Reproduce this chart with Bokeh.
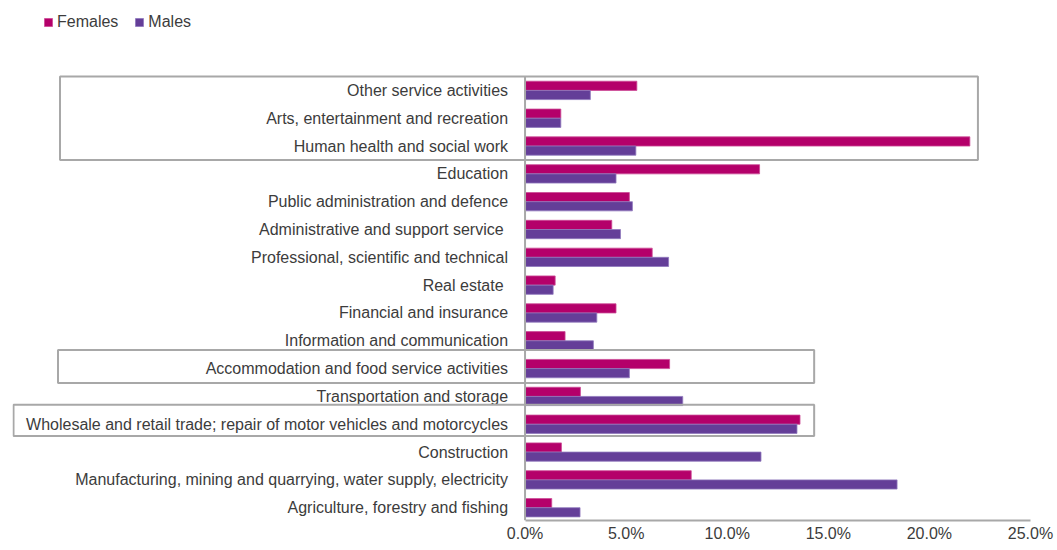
from bokeh.plotting import figure
from bokeh.models import (ColumnDataSource, Range1d, FixedTicker, PrintfTickFormatter,
                          BoxAnnotation, Legend, LegendItem)
from bokeh.transform import dodge
from bokeh.core.properties import value
from bokeh.embed import file_html
from bokeh.resources import INLINE

# ---------------- data (top to bottom as shown) ----------------
categories = [
    "Other service activities",
    "Arts, entertainment and recreation",
    "Human health and social work",
    "Education",
    "Public administration and defence",
    "Administrative and support service ",
    "Professional, scientific and technical",
    "Real estate ",
    "Financial and insurance",
    "Information and communication",
    "Accommodation and food service activities",
    "Transportation and storage",
    "Wholesale and retail trade; repair of motor vehicles and motorcycles",
    "Construction",
    "Manufacturing, mining and quarrying, water supply, electricity",
    "Agriculture, forestry and fishing",
]
females = [5.53, 1.77, 22.0, 11.6, 5.16, 4.29, 6.29, 1.49, 4.5, 1.98, 7.15, 2.74, 13.6, 1.8, 8.22, 1.32]
males = [3.23, 1.77, 5.48, 4.5, 5.31, 4.72, 7.1, 1.39, 3.55, 3.38, 5.16, 7.8, 13.45, 11.67, 18.4, 2.72]
series_names = ["Females", "Males"]
tick_values = [0, 5, 10, 15, 20, 25]

# highlighted groups of categories (first, last)
highlight_groups = [
    ("Other service activities", "Human health and social work"),
    ("Accommodation and food service activities", "Accommodation and food service activities"),
    ("Wholesale and retail trade; repair of motor vehicles and motorcycles",
     "Wholesale and retail trade; repair of motor vehicles and motorcycles"),
]

# ---------------- styling ----------------
F_COL = "#B4006A"
M_COL = "#643E98"
F_EDGE = "#CC4A96"
M_EDGE = "#8F78BC"
GREY = "#A8A8A8"
TXT = "#3C3C3C"
FONT = "Liberation Sans"

n = len(categories)
ypos = [n - 1 - i for i in range(n)]
src = ColumnDataSource(dict(cat=categories, y=ypos, females=females, males=males,
                            zero=[0] * n))

HEIGHT = 550
BOTTOM = 30          # space for the value axis
ROWS_TOP_PX = 76     # screen distance of the top row edge from the page top
y_lo = -0.46
y_rows_top = n - 0.5
px_per_row = (HEIGHT - BOTTOM - ROWS_TOP_PX) / (y_rows_top - y_lo)
y_hi = y_rows_top + ROWS_TOP_PX / px_per_row

p = figure(width=1057, height=HEIGHT,
           x_range=Range1d(-25.35, 25), y_range=Range1d(y_lo, y_hi),
           output_backend="svg", toolbar_location=None,
           min_border_left=12, min_border_right=27, min_border_top=0,
           min_border_bottom=BOTTOM)

bar_h = 0.33
rf = p.hbar(y=dodge("y", bar_h / 2), left=0, right="females", height=bar_h, source=src,
            fill_color=F_COL, line_color=F_EDGE, line_width=0.8)
rm = p.hbar(y=dodge("y", -bar_h / 2), left=0, right="males", height=bar_h, source=src,
            fill_color=M_COL, line_color=M_EDGE, line_width=0.8)

# category labels, right aligned at the value axis
p.text(x="zero", y="y", text="cat", source=src, x_offset=-17, text_align="right",
       text_baseline="middle", text_font=value(FONT), text_font_size="16px",
       text_color=TXT)

# vertical axis line at zero, spanning the category rows
p.segment(x0=[0], y0=[y_lo], x1=[0], y1=[y_rows_top], line_color=GREY, line_width=2)

# highlight boxes
box_x = [(-23.0, 22.4), (-23.1, 14.3), (-25.3, 14.3)]
box_pad = [(0.5, 0.5), (0.67, 0.52), (0.7, 0.42)]
for (first, last), (bl, br), (pt, pb) in zip(highlight_groups, box_x, box_pad):
    ytop = ypos[categories.index(first)] + pt
    ybot = ypos[categories.index(last)] - pb
    p.add_layout(BoxAnnotation(left=bl, right=br, top=ytop, bottom=ybot,
                               fill_color=None, fill_alpha=0,
                               line_color=GREY, line_alpha=1.0, line_width=2))

# x axis
ax = p.xaxis[0]
ax.bounds = (tick_values[0], tick_values[-1])
ax.ticker = FixedTicker(ticks=tick_values)
ax.formatter = PrintfTickFormatter(format="%.1f%%")
ax.axis_line_color = GREY
ax.axis_line_width = 2
ax.major_tick_line_color = None
ax.minor_tick_line_color = None
ax.major_tick_out = 0
ax.major_tick_in = 0
ax.major_label_standoff = 4
ax.major_label_text_font = FONT
ax.major_label_text_font_size = "16px"
ax.major_label_text_color = TXT
p.yaxis.visible = False
p.xgrid.visible = False
p.ygrid.visible = False
p.outline_line_color = None

legend = Legend(items=[LegendItem(label=series_names[0], renderers=[rf]),
                       LegendItem(label=series_names[1], renderers=[rm])],
                orientation="horizontal", location=(31, HEIGHT - BOTTOM - 11 - 20),
                padding=0, margin=0, spacing=16, glyph_width=10, glyph_height=10,
                label_standoff=4, label_text_font=FONT, label_text_font_size="16px",
                label_text_color=TXT, border_line_color=None, background_fill_alpha=0)
p.add_layout(legend)

open("out.html", "w").write(file_html(p, INLINE))
